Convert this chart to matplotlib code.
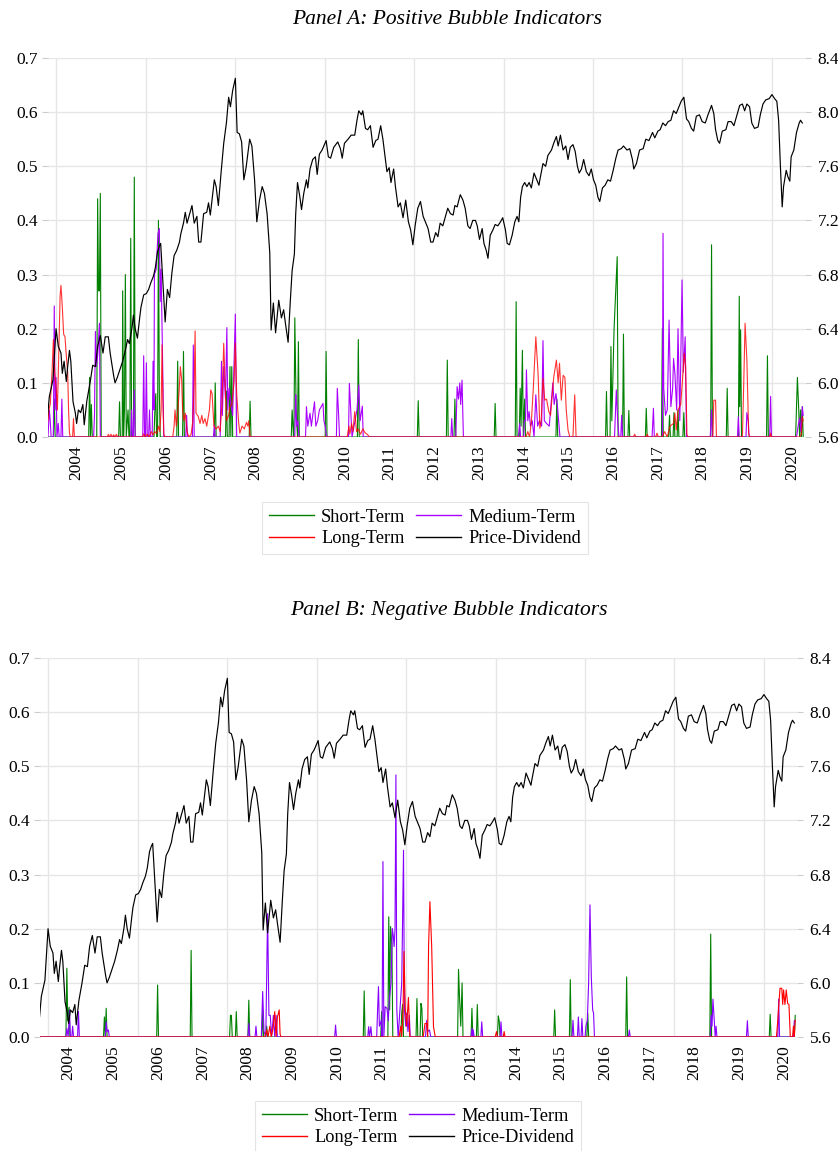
import numpy as np
import matplotlib
matplotlib.use("Agg")
import matplotlib.pyplot as plt
from matplotlib.lines import Line2D
from matplotlib.ticker import FormatStrFormatter

plt.rcParams['font.family'] = ['Liberation Serif', 'DejaVu Serif']

# === Price-Dividend (log), same series in both panels: (decimal year, value) ===
price_dividend = [
    (2003.80, 5.75), (2003.84, 5.90), (2003.92, 6.02), (2003.99, 6.40), (2004.04, 6.27), (2004.10, 6.22),
    (2004.13, 6.07), (2004.17, 6.16), (2004.22, 6.01), (2004.25, 6.12), (2004.29, 6.24), (2004.32, 6.16),
    (2004.37, 5.86), (2004.42, 5.78), (2004.45, 5.70), (2004.49, 5.80), (2004.54, 5.78), (2004.59, 5.84),
    (2004.62, 5.69), (2004.68, 5.87), (2004.75, 6.00), (2004.81, 6.13), (2004.87, 6.12), (2004.92, 6.27),
    (2004.98, 6.35), (2005.04, 6.22), (2005.09, 6.34), (2005.16, 6.34), (2005.20, 6.22), (2005.28, 6.05),
    (2005.31, 6.00), (2005.36, 6.04), (2005.42, 6.10), (2005.48, 6.16), (2005.54, 6.24), (2005.59, 6.32),
    (2005.63, 6.29), (2005.69, 6.41), (2005.72, 6.50), (2005.76, 6.40), (2005.81, 6.33), (2005.86, 6.48),
    (2005.89, 6.56), (2005.95, 6.65), (2006.01, 6.66), (2006.06, 6.69), (2006.11, 6.74), (2006.17, 6.79),
    (2006.21, 6.85), (2006.26, 6.97), (2006.30, 7.01), (2006.33, 7.03), (2006.36, 6.86), (2006.39, 6.69),
    (2006.43, 6.45), (2006.48, 6.69), (2006.53, 6.63), (2006.58, 6.81), (2006.63, 6.94), (2006.69, 6.98),
    (2006.75, 7.04), (2006.78, 7.10), (2006.84, 7.18), (2006.88, 7.26), (2006.92, 7.18), (2006.97, 7.24),
    (2007.03, 7.31), (2007.08, 7.18), (2007.14, 7.23), (2007.18, 7.04), (2007.23, 7.04), (2007.29, 7.25),
    (2007.36, 7.26), (2007.40, 7.33), (2007.44, 7.24), (2007.53, 7.50), (2007.57, 7.45), (2007.62, 7.31),
    (2007.68, 7.55), (2007.74, 7.77), (2007.80, 7.92), (2007.85, 8.11), (2007.89, 8.04), (2007.94, 8.16),
    (2008.00, 8.25), (2008.04, 7.85), (2008.09, 7.84), (2008.14, 7.78), (2008.19, 7.50), (2008.24, 7.59),
    (2008.32, 7.80), (2008.37, 7.75), (2008.43, 7.50), (2008.48, 7.19), (2008.54, 7.35), (2008.60, 7.45),
    (2008.65, 7.40), (2008.71, 7.25), (2008.77, 6.96), (2008.80, 6.39), (2008.85, 6.59), (2008.90, 6.37),
    (2008.97, 6.61), (2009.03, 6.48), (2009.08, 6.54), (2009.12, 6.44), (2009.18, 6.30), (2009.23, 6.61),
    (2009.27, 6.83), (2009.32, 6.95), (2009.35, 7.25), (2009.39, 7.48), (2009.44, 7.38), (2009.48, 7.28),
    (2009.53, 7.40), (2009.59, 7.50), (2009.62, 7.44), (2009.67, 7.58), (2009.73, 7.65), (2009.79, 7.67),
    (2009.83, 7.54), (2009.88, 7.69), (2009.94, 7.72), (2010.03, 7.79), (2010.08, 7.67), (2010.13, 7.66),
    (2010.20, 7.74), (2010.29, 7.78), (2010.35, 7.73), (2010.39, 7.66), (2010.44, 7.77), (2010.52, 7.80),
    (2010.59, 7.83), (2010.67, 7.83), (2010.72, 7.94), (2010.76, 8.01), (2010.82, 7.98), (2010.85, 8.01),
    (2010.91, 7.88), (2010.96, 7.87), (2011.02, 7.90), (2011.08, 7.74), (2011.14, 7.79), (2011.19, 7.80),
    (2011.25, 7.90), (2011.30, 7.80), (2011.35, 7.67), (2011.39, 7.56), (2011.44, 7.59), (2011.48, 7.48),
    (2011.54, 7.58), (2011.58, 7.45), (2011.64, 7.30), (2011.69, 7.33), (2011.75, 7.22), (2011.81, 7.35),
    (2011.87, 7.19), (2011.92, 7.13), (2011.97, 7.02), (2012.02, 7.16), (2012.08, 7.29), (2012.14, 7.34),
    (2012.20, 7.23), (2012.25, 7.19), (2012.31, 7.14), (2012.37, 7.04), (2012.42, 7.04), (2012.48, 7.11),
    (2012.53, 7.08), (2012.58, 7.18), (2012.64, 7.16), (2012.70, 7.23), (2012.75, 7.29), (2012.81, 7.25),
    (2012.87, 7.24), (2012.91, 7.31), (2012.96, 7.30), (2013.03, 7.39), (2013.09, 7.35), (2013.14, 7.29),
    (2013.20, 7.16), (2013.25, 7.14), (2013.31, 7.20), (2013.37, 7.20), (2013.41, 7.16), (2013.46, 7.06),
    (2013.52, 7.14), (2013.56, 7.03), (2013.61, 6.98), (2013.65, 6.92), (2013.70, 7.09), (2013.76, 7.13),
    (2013.81, 7.17), (2013.87, 7.16), (2013.93, 7.19), (2013.98, 7.22), (2014.04, 7.13), (2014.08, 7.03),
    (2014.13, 7.02), (2014.19, 7.09), (2014.25, 7.19), (2014.30, 7.23), (2014.34, 7.19), (2014.38, 7.37),
    (2014.42, 7.45), (2014.47, 7.48), (2014.52, 7.45), (2014.57, 7.48), (2014.62, 7.44), (2014.68, 7.55),
    (2014.73, 7.51), (2014.79, 7.46), (2014.81, 7.50), (2014.88, 7.62), (2014.94, 7.60), (2014.99, 7.68),
    (2015.07, 7.72), (2015.12, 7.77), (2015.18, 7.82), (2015.22, 7.75), (2015.27, 7.83), (2015.33, 7.72),
    (2015.39, 7.75), (2015.44, 7.65), (2015.49, 7.74), (2015.55, 7.76), (2015.60, 7.71), (2015.65, 7.60),
    (2015.69, 7.55), (2015.74, 7.58), (2015.79, 7.65), (2015.85, 7.56), (2015.91, 7.53), (2015.96, 7.58),
    (2016.01, 7.50), (2016.06, 7.46), (2016.11, 7.37), (2016.15, 7.34), (2016.21, 7.44), (2016.27, 7.46),
    (2016.33, 7.50), (2016.39, 7.49), (2016.45, 7.57), (2016.51, 7.66), (2016.56, 7.72), (2016.63, 7.73),
    (2016.68, 7.75), (2016.76, 7.72), (2016.82, 7.73), (2016.88, 7.65), (2016.91, 7.58), (2016.97, 7.62),
    (2017.04, 7.72), (2017.12, 7.73), (2017.18, 7.80), (2017.25, 7.79), (2017.33, 7.85), (2017.38, 7.81),
    (2017.45, 7.86), (2017.50, 7.87), (2017.56, 7.92), (2017.62, 7.90), (2017.68, 7.93), (2017.74, 7.94),
    (2017.80, 8.01), (2017.86, 7.99), (2017.92, 8.04), (2017.97, 8.08), (2018.03, 8.11), (2018.09, 7.95),
    (2018.14, 7.93), (2018.20, 7.88), (2018.25, 7.86), (2018.31, 7.97), (2018.38, 7.98), (2018.44, 7.93),
    (2018.51, 7.92), (2018.57, 7.98), (2018.65, 8.05), (2018.70, 7.99), (2018.74, 7.87), (2018.79, 7.79),
    (2018.83, 7.77), (2018.89, 7.86), (2018.97, 7.87), (2019.02, 7.93), (2019.09, 7.93), (2019.15, 7.90),
    (2019.22, 7.98), (2019.28, 8.05), (2019.34, 8.06), (2019.39, 8.01), (2019.44, 8.06), (2019.50, 8.04),
    (2019.55, 7.92), (2019.61, 7.88), (2019.69, 7.89), (2019.74, 7.98), (2019.80, 8.06), (2019.86, 8.09),
    (2019.94, 8.10), (2020.00, 8.13), (2020.06, 8.10), (2020.11, 8.08), (2020.15, 7.94), (2020.19, 7.60),
    (2020.23, 7.30), (2020.26, 7.45), (2020.32, 7.57), (2020.36, 7.52), (2020.40, 7.49), (2020.43, 7.67),
    (2020.49, 7.72), (2020.55, 7.85), (2020.61, 7.92), (2020.64, 7.94), (2020.68, 7.92),
]

# === Panel A: positive bubble indicators ===
pos_short = [
    (2003.81, 0), (2003.93, 0), (2003.95, 0.07), (2003.97, 0),
    (2004.72, 0), (2004.74, 0.11), (2004.76, 0), (2004.78, 0.06), (2004.80, 0),
    (2004.90, 0), (2004.92, 0.44), (2004.94, 0.27), (2004.96, 0.27), (2004.98, 0.45), (2005.00, 0),
    (2005.39, 0), (2005.41, 0.065), (2005.43, 0), (2005.47, 0), (2005.48, 0.27), (2005.50, 0),
    (2005.52, 0.05), (2005.54, 0.30), (2005.56, 0), (2005.60, 0.05), (2005.62, 0), (2005.64, 0),
    (2005.66, 0.367), (2005.68, 0), (2005.72, 0), (2005.74, 0.48), (2005.76, 0),
    (2006.18, 0), (2006.20, 0.05), (2006.22, 0.08), (2006.24, 0), (2006.26, 0), (2006.28, 0.40),
    (2006.30, 0.08), (2006.32, 0),
    (2006.69, 0), (2006.71, 0.14), (2006.73, 0), (2006.82, 0), (2006.84, 0.158), (2006.86, 0),
    (2007.53, 0), (2007.55, 0.10), (2007.57, 0), (2007.78, 0), (2007.80, 0.085), (2007.82, 0),
    (2007.86, 0), (2007.88, 0.13), (2007.90, 0), (2007.92, 0.13), (2007.94, 0),
    (2008.31, 0), (2008.33, 0.066), (2008.35, 0),
    (2009.25, 0), (2009.27, 0.05), (2009.30, 0), (2009.31, 0), (2009.33, 0.22), (2009.36, 0.05),
    (2009.39, 0), (2009.41, 0.176), (2009.43, 0),
    (2010.01, 0), (2010.03, 0.158), (2010.05, 0), (2010.73, 0), (2010.75, 0.18), (2010.77, 0),
    (2012.07, 0), (2012.09, 0.067), (2012.11, 0), (2012.72, 0), (2012.74, 0.142), (2012.76, 0),
    (2012.89, 0), (2012.91, 0.07), (2012.93, 0), (2013.79, 0), (2013.81, 0.062), (2013.83, 0),
    (2014.26, 0), (2014.28, 0.25), (2014.30, 0), (2014.35, 0), (2014.37, 0.09), (2014.39, 0.02),
    (2014.42, 0.16), (2014.44, 0), (2014.47, 0.07), (2014.49, 0),
    (2015.17, 0), (2015.19, 0.07), (2015.21, 0),
    (2016.28, 0), (2016.30, 0.084), (2016.32, 0), (2016.38, 0), (2016.40, 0.167), (2016.42, 0.03),
    (2016.47, 0.20), (2016.54, 0.333), (2016.56, 0), (2016.66, 0), (2016.68, 0.19), (2016.70, 0),
    (2016.78, 0), (2016.80, 0.049), (2016.82, 0),
    (2017.17, 0), (2017.19, 0.053), (2017.21, 0), (2017.53, 0), (2017.55, 0.20), (2017.57, 0),
    (2017.69, 0), (2017.71, 0.04), (2017.73, 0), (2017.79, 0), (2017.81, 0.045), (2017.83, 0),
    (2017.88, 0), (2017.90, 0.05), (2017.92, 0), (2018.01, 0), (2018.03, 0.045), (2018.05, 0),
    (2018.63, 0), (2018.65, 0.355), (2018.67, 0), (2018.98, 0), (2019.00, 0.09), (2019.02, 0),
    (2019.25, 0), (2019.27, 0.26), (2019.28, 0.056), (2019.30, 0.198), (2019.32, 0),
    (2019.88, 0), (2019.90, 0.15), (2019.92, 0),
    (2020.53, 0), (2020.57, 0.11), (2020.60, 0.05), (2020.62, 0), (2020.64, 0.05), (2020.66, 0),
    (2020.68, 0.056), (2020.70, 0),
]

pos_medium = [
    (2003.81, 0), (2003.84, 0.05), (2003.86, 0.03), (2003.88, 0), (2003.93, 0), (2003.95, 0.242),
    (2003.97, 0.05), (2003.99, 0.11), (2004.01, 0), (2004.04, 0.025), (2004.06, 0), (2004.10, 0),
    (2004.12, 0.07), (2004.14, 0),
    (2004.83, 0), (2004.85, 0.04), (2004.87, 0.195), (2004.89, 0.13), (2004.92, 0.15), (2004.96, 0.21),
    (2004.98, 0),
    (2005.66, 0), (2005.68, 0.05), (2005.70, 0), (2005.72, 0), (2005.74, 0.087), (2005.76, 0),
    (2005.93, 0), (2005.95, 0.15), (2005.97, 0), (2005.99, 0), (2006.01, 0.137), (2006.03, 0),
    (2006.06, 0), (2006.08, 0.05), (2006.10, 0), (2006.14, 0), (2006.16, 0.14), (2006.18, 0.05),
    (2006.19, 0.30), (2006.23, 0.31), (2006.27, 0.376), (2006.30, 0.385), (2006.32, 0.25),
    (2006.34, 0.31), (2006.38, 0.10), (2006.40, 0),
    (2006.89, 0), (2006.91, 0.04), (2006.93, 0), (2007.04, 0), (2007.06, 0.17), (2007.08, 0),
    (2007.51, 0), (2007.53, 0.022), (2007.55, 0),
    (2007.66, 0), (2007.69, 0.14), (2007.71, 0.04), (2007.74, 0.13), (2007.78, 0.07), (2007.81, 0.202),
    (2007.83, 0.05), (2007.86, 0.09), (2007.90, 0.06), (2007.94, 0.04), (2008.00, 0.227), (2008.03, 0),
    (2009.33, 0), (2009.34, 0.05), (2009.35, 0.078), (2009.37, 0.02), (2009.40, 0.03), (2009.42, 0),
    (2009.57, 0), (2009.59, 0.056), (2009.62, 0.02), (2009.67, 0.044), (2009.70, 0.02), (2009.77, 0.065),
    (2009.80, 0.02), (2009.84, 0.03), (2009.88, 0.05), (2009.96, 0.062), (2009.98, 0.03), (2010.01, 0.02),
    (2010.04, 0),
    (2010.26, 0), (2010.28, 0.09), (2010.31, 0.04), (2010.33, 0),
    (2010.53, 0), (2010.55, 0.099), (2010.58, 0.05), (2010.61, 0), (2010.72, 0.05), (2010.76, 0.096),
    (2010.79, 0.03), (2010.84, 0.057), (2010.86, 0),
    (2012.82, 0), (2012.84, 0.034), (2012.86, 0), (2012.93, 0), (2012.96, 0.093), (2012.99, 0.07),
    (2013.02, 0.10), (2013.04, 0.06), (2013.07, 0.105), (2013.10, 0),
    (2014.33, 0), (2014.36, 0.025), (2014.38, 0), (2014.45, 0), (2014.46, 0.03), (2014.49, 0.03),
    (2014.51, 0.124), (2014.54, 0.03), (2014.57, 0.047), (2014.60, 0.02), (2014.64, 0.03), (2014.68, 0),
    (2014.72, 0.078), (2014.76, 0.02), (2014.80, 0.03), (2014.85, 0.02), (2014.88, 0.178), (2014.91, 0.03),
    (2014.96, 0.025), (2015.02, 0.02), (2015.10, 0.10), (2015.13, 0.06), (2015.17, 0.08), (2015.20, 0.06),
    (2015.24, 0.02), (2015.26, 0),
    (2016.48, 0), (2016.52, 0.087), (2016.55, 0.03), (2016.58, 0), (2016.62, 0), (2016.64, 0.04),
    (2016.66, 0),
    (2017.32, 0), (2017.35, 0.053), (2017.37, 0),
    (2017.55, 0), (2017.565, 0.376), (2017.58, 0.09), (2017.62, 0.04), (2017.66, 0.05), (2017.70, 0.216),
    (2017.74, 0.056), (2017.78, 0.09), (2017.80, 0.145), (2017.83, 0.118), (2017.87, 0.05), (2017.90, 0.20),
    (2017.94, 0.03), (2017.99, 0.29), (2018.02, 0.12), (2018.06, 0.185), (2018.09, 0),
    (2018.62, 0), (2018.65, 0.05), (2018.67, 0),
    (2019.23, 0), (2019.25, 0.037), (2019.27, 0), (2019.42, 0), (2019.44, 0.045), (2019.47, 0.03),
    (2019.49, 0), (2019.95, 0), (2019.97, 0.075), (2019.99, 0),
    (2020.55, 0), (2020.59, 0.022), (2020.62, 0.035), (2020.65, 0.01), (2020.68, 0.056), (2020.70, 0.04),
]

pos_long = [
    (2003.81, 0.03), (2003.83, 0.05), (2003.86, 0.06), (2003.90, 0.12), (2003.93, 0.18), (2003.96, 0.12),
    (2003.99, 0.093), (2004.02, 0.05), (2004.05, 0.15), (2004.08, 0.26), (2004.10, 0.28), (2004.13, 0.24),
    (2004.16, 0.19), (2004.19, 0.185), (2004.22, 0.15), (2004.25, 0.12), (2004.27, 0.05), (2004.29, 0.007),
    (2004.31, 0), (2004.36, 0), (2004.38, 0.034), (2004.40, 0),
    (2005.14, 0), (2005.16, 0.005), (2005.19, 0), (2005.22, 0.005), (2005.25, 0), (2005.28, 0.004),
    (2005.31, 0), (2005.34, 0.005), (2005.37, 0),
    (2005.92, 0), (2005.95, 0.006), (2005.98, 0), (2006.03, 0.005), (2006.07, 0), (2006.12, 0.01),
    (2006.16, 0.004), (2006.20, 0.01), (2006.24, 0.006), (2006.28, 0.02), (2006.31, 0.01), (2006.34, 0.05),
    (2006.36, 0.17), (2006.38, 0.06), (2006.40, 0.005), (2006.43, 0),
    (2006.60, 0), (2006.63, 0.02), (2006.65, 0.05), (2006.68, 0.02), (2006.71, 0.045), (2006.74, 0.08),
    (2006.77, 0.13), (2006.80, 0.105), (2006.82, 0.05), (2006.85, 0.03), (2006.88, 0.044), (2006.92, 0.01),
    (2006.96, 0), (2007.01, 0.005), (2007.05, 0.03), (2007.08, 0.10), (2007.10, 0.196), (2007.12, 0.044),
    (2007.17, 0.038), (2007.21, 0.025), (2007.25, 0.04), (2007.28, 0.025), (2007.32, 0.034), (2007.36, 0.02),
    (2007.42, 0.05), (2007.45, 0.087), (2007.48, 0.08), (2007.52, 0.02), (2007.57, 0.015), (2007.62, 0.02),
    (2007.66, 0.01), (2007.70, 0.06), (2007.74, 0.173), (2007.77, 0.10), (2007.80, 0.03), (2007.85, 0.04),
    (2007.88, 0.056), (2007.92, 0.06), (2007.97, 0.10), (2008.00, 0.173), (2008.03, 0.08), (2008.07, 0.03),
    (2008.10, 0.007), (2008.15, 0.02), (2008.20, 0.015), (2008.25, 0.027), (2008.28, 0.02), (2008.30, 0.03),
    (2008.33, 0),
    (2010.50, 0), (2010.54, 0.02), (2010.56, 0.005), (2010.60, 0.025), (2010.63, 0.01), (2010.67, 0.047),
    (2010.69, 0.03), (2010.71, 0.01), (2010.75, 0.015), (2010.80, 0.005), (2010.85, 0.015), (2010.90, 0.008),
    (2010.95, 0.005), (2011.00, 0),
    (2014.50, 0), (2014.54, 0.01), (2014.58, 0), (2014.62, 0.028), (2014.66, 0.084), (2014.72, 0.185),
    (2014.77, 0.118), (2014.81, 0.016), (2014.84, 0.03), (2014.88, 0.108), (2014.92, 0.068), (2014.96, 0.07),
    (2015.01, 0.047), (2015.05, 0.04), (2015.12, 0.11), (2015.18, 0.142), (2015.22, 0.10), (2015.25, 0.136),
    (2015.29, 0.068), (2015.33, 0.114), (2015.37, 0.11), (2015.40, 0.05), (2015.44, 0.013), (2015.48, 0),
    (2015.55, 0), (2015.59, 0.078), (2015.62, 0),
    (2016.90, 0), (2016.93, 0.005), (2016.96, 0), (2017.19, 0), (2017.21, 0.005), (2017.24, 0),
    (2017.40, 0), (2017.43, 0.007), (2017.46, 0), (2017.55, 0), (2017.60, 0.01), (2017.66, 0),
    (2017.72, 0.02), (2017.80, 0.025), (2017.83, 0.044), (2017.86, 0.013), (2017.90, 0.05), (2017.96, 0.06),
    (2018.00, 0.105), (2018.04, 0.155), (2018.07, 0.13), (2018.10, 0.004), (2018.13, 0),
    (2018.68, 0), (2018.70, 0.068), (2018.74, 0.068), (2018.76, 0),
    (2019.34, 0), (2019.37, 0.10), (2019.40, 0.21), (2019.44, 0.142), (2019.48, 0.007), (2019.50, 0),
    (2019.95, 0), (2019.97, 0.007), (2019.99, 0), (2020.62, 0), (2020.66, 0.005), (2020.68, 0.037),
    (2020.70, 0.03),
]

# === Panel B: negative bubble indicators ===
neg_short = [
    (2003.81, 0), (2004.39, 0), (2004.41, 0.127), (2004.43, 0.03), (2004.46, 0.055), (2004.48, 0),
    (2005.23, 0), (2005.25, 0.037), (2005.27, 0), (2005.29, 0.053), (2005.31, 0),
    (2006.42, 0), (2006.44, 0.096), (2006.46, 0), (2007.17, 0), (2007.19, 0.16), (2007.21, 0),
    (2008.05, 0), (2008.07, 0.04), (2008.09, 0.04), (2008.11, 0), (2008.18, 0), (2008.20, 0.047),
    (2008.22, 0), (2008.46, 0), (2008.48, 0.068), (2008.50, 0), (2008.77, 0), (2008.79, 0.05),
    (2008.81, 0), (2008.86, 0), (2008.88, 0.02), (2008.90, 0),
    (2011.04, 0), (2011.06, 0.085), (2011.08, 0), (2011.43, 0), (2011.45, 0.047), (2011.47, 0),
    (2011.59, 0), (2011.61, 0.222), (2011.63, 0.05), (2011.65, 0.204), (2011.68, 0.17), (2011.70, 0),
    (2011.88, 0), (2011.90, 0.044), (2011.92, 0.06), (2011.94, 0), (2012.22, 0), (2012.24, 0.071),
    (2012.26, 0), (2012.31, 0), (2012.33, 0.062), (2012.35, 0.053), (2012.37, 0),
    (2013.15, 0), (2013.17, 0.125), (2013.19, 0.078), (2013.22, 0.02), (2013.25, 0.10), (2013.27, 0),
    (2013.45, 0), (2013.47, 0.053), (2013.49, 0), (2013.57, 0), (2013.59, 0.06), (2013.61, 0),
    (2014.04, 0), (2014.06, 0.039), (2014.08, 0.03), (2014.10, 0),
    (2015.30, 0), (2015.32, 0.05), (2015.34, 0), (2015.65, 0), (2015.67, 0.106), (2015.69, 0),
    (2016.04, 0), (2016.06, 0.044), (2016.08, 0), (2016.91, 0), (2016.93, 0.111), (2016.95, 0),
    (2018.79, 0), (2018.81, 0.19), (2018.83, 0), (2020.12, 0), (2020.14, 0.042), (2020.16, 0),
    (2020.68, 0), (2020.70, 0.04),
]

neg_medium = [
    (2003.81, 0), (2004.39, 0), (2004.41, 0.016), (2004.44, 0), (2004.47, 0.05), (2004.49, 0),
    (2004.52, 0), (2004.54, 0.02), (2004.56, 0), (2004.65, 0), (2004.67, 0.047), (2004.69, 0),
    (2005.27, 0), (2005.29, 0.028), (2005.31, 0.01), (2005.34, 0.013), (2005.36, 0),
    (2008.46, 0), (2008.48, 0.025), (2008.50, 0), (2008.62, 0), (2008.64, 0.02), (2008.66, 0),
    (2008.76, 0), (2008.79, 0.084), (2008.82, 0.01), (2008.86, 0), (2008.90, 0.228), (2008.93, 0.04),
    (2008.96, 0.04), (2008.99, 0), (2009.03, 0.04), (2009.06, 0), (2009.09, 0.04), (2009.12, 0),
    (2010.40, 0), (2010.42, 0.022), (2010.44, 0),
    (2011.14, 0), (2011.16, 0.019), (2011.18, 0), (2011.21, 0.019), (2011.23, 0),
    (2011.34, 0), (2011.36, 0.05), (2011.38, 0.093), (2011.40, 0.02), (2011.44, 0.03), (2011.46, 0),
    (2011.48, 0.324), (2011.50, 0), (2011.53, 0.056), (2011.57, 0.053), (2011.60, 0.03), (2011.62, 0.068),
    (2011.66, 0.10), (2011.69, 0.20), (2011.71, 0.188), (2011.73, 0.167), (2011.75, 0.20), (2011.77, 0.484),
    (2011.79, 0.05), (2011.82, 0), (2011.86, 0.05), (2011.90, 0.10), (2011.94, 0.345), (2011.96, 0.05),
    (2011.99, 0.02), (2012.01, 0.044), (2012.04, 0.01), (2012.07, 0.04), (2012.09, 0),
    (2012.43, 0), (2012.46, 0.031), (2012.48, 0.01), (2012.52, 0.013), (2012.55, 0),
    (2013.45, 0), (2013.47, 0.016), (2013.49, 0), (2013.50, 0.013), (2013.52, 0), (2013.67, 0),
    (2013.69, 0.028), (2013.71, 0), (2014.10, 0), (2014.12, 0.028), (2014.14, 0),
    (2015.71, 0), (2015.73, 0.031), (2015.75, 0), (2015.83, 0), (2015.85, 0.037), (2015.87, 0),
    (2015.91, 0), (2015.93, 0.034), (2015.95, 0), (2016.00, 0), (2016.02, 0.02), (2016.05, 0.03),
    (2016.08, 0.10), (2016.11, 0.244), (2016.14, 0.11), (2016.17, 0.05), (2016.19, 0.044), (2016.21, 0),
    (2016.97, 0), (2016.99, 0.013), (2017.01, 0),
    (2018.80, 0), (2018.82, 0.04), (2018.84, 0.02), (2018.86, 0.07), (2018.89, 0.03), (2018.91, 0),
    (2018.93, 0.02), (2018.95, 0), (2019.61, 0), (2019.63, 0.03), (2019.65, 0),
    (2020.31, 0), (2020.33, 0.07), (2020.35, 0), (2020.66, 0), (2020.68, 0.03), (2020.70, 0.03),
]

neg_long = [
    (2003.81, 0), (2008.84, 0), (2008.88, 0.013), (2008.91, 0), (2008.95, 0.02), (2008.98, 0),
    (2009.02, 0.015), (2009.06, 0.047), (2009.09, 0), (2009.12, 0.037), (2009.16, 0.05), (2009.18, 0.005),
    (2009.20, 0),
    (2011.84, 0), (2011.88, 0.02), (2011.90, 0), (2011.93, 0.05), (2011.95, 0.158), (2011.98, 0.05),
    (2012.01, 0.02), (2012.05, 0.073), (2012.08, 0),
    (2012.38, 0), (2012.42, 0.025), (2012.46, 0.025), (2012.48, 0), (2012.50, 0.167), (2012.53, 0.25),
    (2012.57, 0.167), (2012.61, 0.019), (2012.65, 0),
    (2013.99, 0), (2014.02, 0.01), (2014.04, 0), (2014.17, 0), (2014.19, 0.01), (2014.21, 0),
    (2020.28, 0), (2020.31, 0.03), (2020.33, 0.056), (2020.36, 0.09), (2020.40, 0.09), (2020.42, 0.06),
    (2020.44, 0.087), (2020.47, 0.06), (2020.50, 0.087), (2020.53, 0.062), (2020.56, 0.06), (2020.59, 0),
    (2020.64, 0), (2020.66, 0.02), (2020.68, 0), (2020.70, 0.031),
]

year_labels = list(range(2004, 2021))
grid_years = list(range(2004, 2021, 2))
labels = ["Short-Term", "Long-Term", "Medium-Term", "Price-Dividend"]

GREEN = "#008000"
RED = "#ff0000"
GRID = "#e6e6e6"

W, H = 838, 1151
fig = plt.figure(figsize=(W / 100, H / 100), dpi=100)


def xy(series):
    t, v = zip(*series)
    return np.array(t), np.array(v)


def draw_panel(left_px, top_px, title, title_xy, short, medium, long_, purple, red_alpha, leg_xy):
    ax = fig.add_axes([left_px / W, 1 - (top_px + 379) / H, 757 / W, 379 / H])
    ax2 = ax.twinx()

    ax.plot(*xy(short), color=GREEN, lw=0.8, zorder=3)
    ax.plot(*xy(medium), color=purple, lw=0.8, zorder=4)
    ax.plot(*xy(long_), color=RED, lw=0.8, alpha=red_alpha, zorder=5)
    ax2.plot(*xy(price_dividend), color="black", lw=0.85)

    ax.set_xlim(2003.81, 2020.74)
    ax.set_ylim(0, 0.7)
    ax2.set_ylim(5.6, 8.4)
    ax.set_yticks(np.arange(0, 0.71, 0.1))
    ax2.set_yticks(np.arange(5.6, 8.41, 0.4))
    ax.yaxis.set_major_formatter(FormatStrFormatter("%.1f"))
    ax2.yaxis.set_major_formatter(FormatStrFormatter("%.1f"))

    ax.set_xticks([y + 0.45 for y in year_labels])
    ax.set_xticklabels([str(y) for y in year_labels], rotation=90, fontsize=12.5)
    ax.set_xticks(grid_years, minor=True)

    ax.grid(axis="y", color=GRID, lw=1.0)
    ax.grid(axis="x", which="minor", color=GRID, lw=1.0)
    ax.set_axisbelow(True)

    for a in (ax, ax2):
        for s in a.spines.values():
            s.set_visible(False)
    ax.tick_params(axis="y", length=4, color="#cccccc", labelsize=12.5, pad=3)
    ax2.tick_params(axis="y", length=4, color="#cccccc", labelsize=12.5, pad=5)
    ax.tick_params(axis="x", which="both", length=0, pad=6)

    fig.text(title_xy[0] / W, 1 - title_xy[1] / H, title, ha="center", va="center",
             fontsize=15.5, style="italic")

    handles = [Line2D([], [], color=GREEN, lw=1), Line2D([], [], color=RED, lw=1),
               Line2D([], [], color=purple, lw=1), Line2D([], [], color="black", lw=1)]
    leg = fig.legend(handles, labels, ncol=2, loc="center",
                     bbox_to_anchor=(leg_xy[0] / W, 1 - leg_xy[1] / H),
                     fontsize=13.2, frameon=True, fancybox=False, edgecolor="#dddddd",
                     handlelength=2.45, handletextpad=0.4, columnspacing=0.6,
                     labelspacing=0.25, borderpad=0.35)
    leg.get_frame().set_linewidth(0.8)


draw_panel(48, 58, "Panel A: Positive Bubble Indicators", (447, 20),
           pos_short, pos_medium, pos_long, "#aa00ff", 0.8, (425, 528))
draw_panel(40, 658, "Panel B: Negative Bubble Indicators", (449, 611),
           neg_short, neg_medium, neg_long, "#8800ff", 1.0, (418, 1127))

fig.savefig("out.png", dpi=100)
